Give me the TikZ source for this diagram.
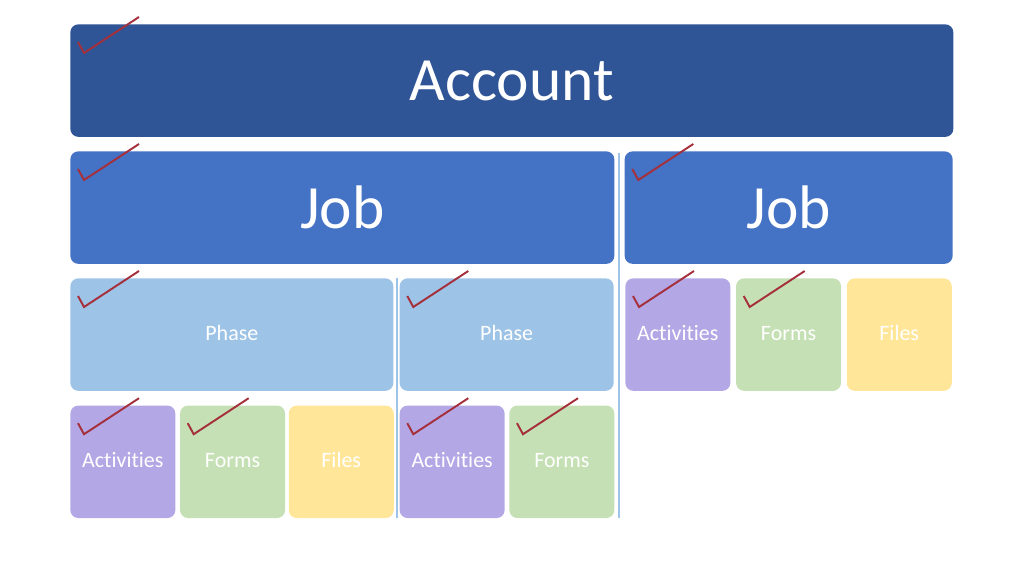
\documentclass[tikz,border=0pt]{standalone}
\usepackage{fontspec}
\setmainfont{Carlito}[Ligatures=NoCommon]
\usetikzlibrary{
  positioning,  % Function "of" (e.g. [right=of x])
  calc,         % Calculations $...$
}
\definecolor{accountblue}{HTML}{2F5597}
\definecolor{jobblue}{HTML}{4472C4}
\definecolor{phaseblue}{HTML}{9DC3E6}
\definecolor{actpurple}{HTML}{B4A7E5}
\definecolor{formgreen}{HTML}{C5E0B4}
\definecolor{fileyellow}{HTML}{FFE699}
\definecolor{tickred}{HTML}{A5303C}
\def\myrowh{2.25cm}
\def\myvdist{0.28cm}
\def\mysmallw{2.1cm}
\newcommand{\tick}[1]{%
  \draw[tick mark] ($(#1.north west)+(0.16,-0.36)$) -- ++(0.12,-0.22) -- ++(1.1,0.72);
}
\tikzset{
  font=\rmfamily,
  my box/.style={
    draw=none,
    rounded corners=1.6mm,
    minimum height=\myrowh,
    inner sep=0mm,
    text=white,
    rectangle
  },
  big box/.style={
    my box,
    fill=jobblue,
    font=\fontsize{35}{40}\selectfont
  },
  small box/.style={
    my box,
    text height=0.84em,
    text depth=0.2em,
    font=\fontsize{12.5}{15}\selectfont
  },
  act/.style={small box, fill=actpurple, minimum width=\mysmallw},
  frm/.style={small box, fill=formgreen, minimum width=\mysmallw},
  fls/.style={small box, fill=fileyellow, minimum width=\mysmallw},
  divider/.style={draw=phaseblue, line width=0.6pt},
  tick mark/.style={
    draw=tickred,
    line width=1.1pt,
    line join=miter
  }
}
\begin{document}
\begin{tikzpicture}
\useasboundingbox (0,0) rectangle (20.48,-11.52);
% rows
\node[big box, fill=accountblue, minimum width=17.66cm, anchor=north west] (account) at (1.4,-0.48) {Account};
\node[big box, minimum width=10.88cm, anchor=north west] (job1) at (1.4,-3.02) {Job};
\node[big box, minimum width=6.56cm, anchor=north east] (job2) at (19.06,-3.02) {Job};
\node[small box, fill=phaseblue, minimum width=6.46cm, anchor=north west] (phase1) at (1.4,-5.56) {Phase};
\node[small box, fill=phaseblue, minimum width=4.28cm, anchor=north east] (phase2) at (12.28,-5.56) {Phase};
% job 2 contents
\node[act, anchor=north west] (act3) at (12.5,-5.56) {Activities};
\node[frm] (frm3) [right=0.1cm of act3] {Forms};
\node[fls] (fls3) [right=0.1cm of frm3] {Files};
% phase 1 contents
\node[act] (act1) [below=\myvdist of phase1.south west, anchor=north west] {Activities};
\node[frm] (frm1) [right=0.08cm of act1] {Forms};
\node[fls] (fls1) [right=0.06cm of frm1] {Files};
% phase 2 contents
\node[act] (act2) [below=\myvdist of phase2.south west, anchor=north west] {Activities};
\node[frm] (frm2) [right=0.08cm of act2] {Forms};
% dividers
\coordinate (d1top) at (7.94,-5.56);
\coordinate (d1bot) at (7.94,-10.36);
\coordinate (d2top) at (12.38,-3.06);
\coordinate (d2bot) at (12.38,-10.36);
\draw[divider] (d1top) -- (d1bot);
\draw[divider] (d2top) -- (d2bot);
% ticks
\foreach \n in {account,job1,job2,phase1,phase2,act1,frm1,act2,frm2,act3,frm3}
  {\tick{\n}}
\end{tikzpicture}
\end{document}
